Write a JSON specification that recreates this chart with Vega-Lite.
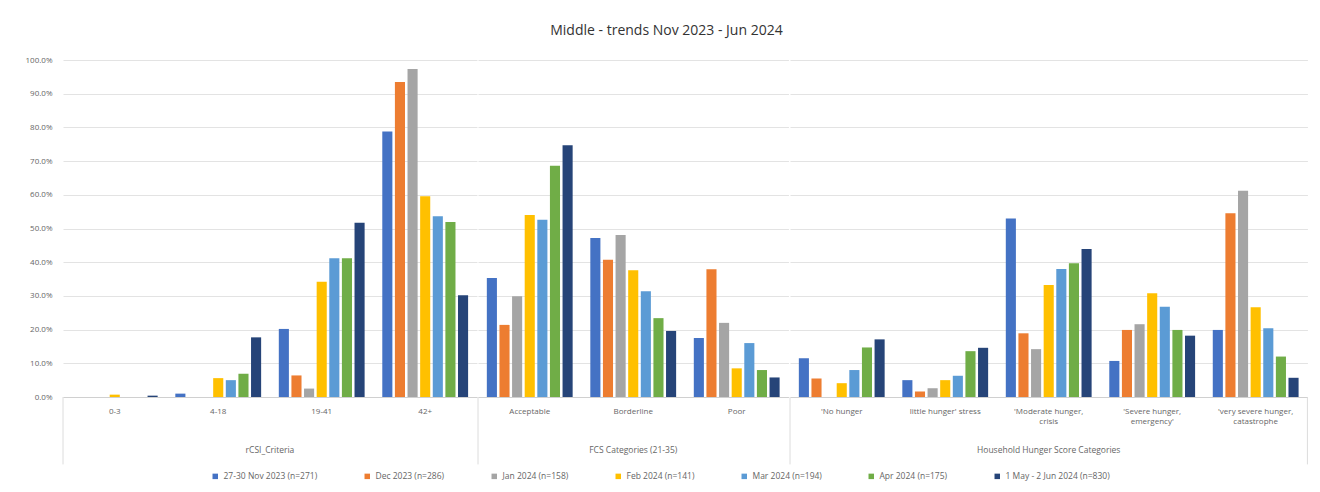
{
  "$schema": "https://vega.github.io/schema/vega-lite/v6.json",
  "padding": {"left": 24, "top": 24, "right": 12, "bottom": 4},
  "background": "white",
  "title": {"text": "Middle - trends Nov 2023 - Jun 2024", "anchor": "middle", "frame": "bounds", "fontSize": 14, "fontWeight": "normal", "font": "Open Sans", "color": "#333333", "offset": 18},
  "data": {"values": [
    {"g": "rCSI_Criteria", "c": "0-3", "s": "Nov", "v": 0},
    {"g": "rCSI_Criteria", "c": "0-3", "s": "Dec", "v": 0},
    {"g": "rCSI_Criteria", "c": "0-3", "s": "Jan", "v": 0},
    {"g": "rCSI_Criteria", "c": "0-3", "s": "Feb", "v": 0.007},
    {"g": "rCSI_Criteria", "c": "0-3", "s": "Mar", "v": 0},
    {"g": "rCSI_Criteria", "c": "0-3", "s": "Apr", "v": 0},
    {"g": "rCSI_Criteria", "c": "0-3", "s": "May", "v": 0.004},
    {"g": "rCSI_Criteria", "c": "4-18", "s": "Nov", "v": 0.010},
    {"g": "rCSI_Criteria", "c": "4-18", "s": "Dec", "v": 0},
    {"g": "rCSI_Criteria", "c": "4-18", "s": "Jan", "v": 0},
    {"g": "rCSI_Criteria", "c": "4-18", "s": "Feb", "v": 0.056},
    {"g": "rCSI_Criteria", "c": "4-18", "s": "Mar", "v": 0.050},
    {"g": "rCSI_Criteria", "c": "4-18", "s": "Apr", "v": 0.069},
    {"g": "rCSI_Criteria", "c": "4-18", "s": "May", "v": 0.177},
    {"g": "rCSI_Criteria", "c": "19-41", "s": "Nov", "v": 0.202},
    {"g": "rCSI_Criteria", "c": "19-41", "s": "Dec", "v": 0.064},
    {"g": "rCSI_Criteria", "c": "19-41", "s": "Jan", "v": 0.025},
    {"g": "rCSI_Criteria", "c": "19-41", "s": "Feb", "v": 0.342},
    {"g": "rCSI_Criteria", "c": "19-41", "s": "Mar", "v": 0.412},
    {"g": "rCSI_Criteria", "c": "19-41", "s": "Apr", "v": 0.412},
    {"g": "rCSI_Criteria", "c": "19-41", "s": "May", "v": 0.517},
    {"g": "rCSI_Criteria", "c": "42+", "s": "Nov", "v": 0.788},
    {"g": "rCSI_Criteria", "c": "42+", "s": "Dec", "v": 0.935},
    {"g": "rCSI_Criteria", "c": "42+", "s": "Jan", "v": 0.973},
    {"g": "rCSI_Criteria", "c": "42+", "s": "Feb", "v": 0.596},
    {"g": "rCSI_Criteria", "c": "42+", "s": "Mar", "v": 0.536},
    {"g": "rCSI_Criteria", "c": "42+", "s": "Apr", "v": 0.519},
    {"g": "rCSI_Criteria", "c": "42+", "s": "May", "v": 0.302},
    {"g": "FCS Categories (21-35)", "c": "Acceptable", "s": "Nov", "v": 0.353},
    {"g": "FCS Categories (21-35)", "c": "Acceptable", "s": "Dec", "v": 0.214},
    {"g": "FCS Categories (21-35)", "c": "Acceptable", "s": "Jan", "v": 0.299},
    {"g": "FCS Categories (21-35)", "c": "Acceptable", "s": "Feb", "v": 0.540},
    {"g": "FCS Categories (21-35)", "c": "Acceptable", "s": "Mar", "v": 0.526},
    {"g": "FCS Categories (21-35)", "c": "Acceptable", "s": "Apr", "v": 0.686},
    {"g": "FCS Categories (21-35)", "c": "Acceptable", "s": "May", "v": 0.747},
    {"g": "FCS Categories (21-35)", "c": "Borderline", "s": "Nov", "v": 0.472},
    {"g": "FCS Categories (21-35)", "c": "Borderline", "s": "Dec", "v": 0.407},
    {"g": "FCS Categories (21-35)", "c": "Borderline", "s": "Jan", "v": 0.481},
    {"g": "FCS Categories (21-35)", "c": "Borderline", "s": "Feb", "v": 0.376},
    {"g": "FCS Categories (21-35)", "c": "Borderline", "s": "Mar", "v": 0.314},
    {"g": "FCS Categories (21-35)", "c": "Borderline", "s": "Apr", "v": 0.234},
    {"g": "FCS Categories (21-35)", "c": "Borderline", "s": "May", "v": 0.196},
    {"g": "FCS Categories (21-35)", "c": "Poor", "s": "Nov", "v": 0.175},
    {"g": "FCS Categories (21-35)", "c": "Poor", "s": "Dec", "v": 0.379},
    {"g": "FCS Categories (21-35)", "c": "Poor", "s": "Jan", "v": 0.220},
    {"g": "FCS Categories (21-35)", "c": "Poor", "s": "Feb", "v": 0.085},
    {"g": "FCS Categories (21-35)", "c": "Poor", "s": "Mar", "v": 0.160},
    {"g": "FCS Categories (21-35)", "c": "Poor", "s": "Apr", "v": 0.080},
    {"g": "FCS Categories (21-35)", "c": "Poor", "s": "May", "v": 0.058},
    {"g": "Household Hunger Score Categories", "c": "'No hunger", "s": "Nov", "v": 0.115},
    {"g": "Household Hunger Score Categories", "c": "'No hunger", "s": "Dec", "v": 0.055},
    {"g": "Household Hunger Score Categories", "c": "'No hunger", "s": "Jan", "v": 0},
    {"g": "Household Hunger Score Categories", "c": "'No hunger", "s": "Feb", "v": 0.041},
    {"g": "Household Hunger Score Categories", "c": "'No hunger", "s": "Mar", "v": 0.080},
    {"g": "Household Hunger Score Categories", "c": "'No hunger", "s": "Apr", "v": 0.147},
    {"g": "Household Hunger Score Categories", "c": "'No hunger", "s": "May", "v": 0.171},
    {"g": "Household Hunger Score Categories", "c": "little hunger' stress", "s": "Nov", "v": 0.050},
    {"g": "Household Hunger Score Categories", "c": "little hunger' stress", "s": "Dec", "v": 0.016},
    {"g": "Household Hunger Score Categories", "c": "little hunger' stress", "s": "Jan", "v": 0.026},
    {"g": "Household Hunger Score Categories", "c": "little hunger' stress", "s": "Feb", "v": 0.050},
    {"g": "Household Hunger Score Categories", "c": "little hunger' stress", "s": "Mar", "v": 0.063},
    {"g": "Household Hunger Score Categories", "c": "little hunger' stress", "s": "Apr", "v": 0.136},
    {"g": "Household Hunger Score Categories", "c": "little hunger' stress", "s": "May", "v": 0.146},
    {"g": "Household Hunger Score Categories", "c": "'Moderate hunger, crisis", "s": "Nov", "v": 0.530},
    {"g": "Household Hunger Score Categories", "c": "'Moderate hunger, crisis", "s": "Dec", "v": 0.189},
    {"g": "Household Hunger Score Categories", "c": "'Moderate hunger, crisis", "s": "Jan", "v": 0.142},
    {"g": "Household Hunger Score Categories", "c": "'Moderate hunger, crisis", "s": "Feb", "v": 0.332},
    {"g": "Household Hunger Score Categories", "c": "'Moderate hunger, crisis", "s": "Mar", "v": 0.380},
    {"g": "Household Hunger Score Categories", "c": "'Moderate hunger, crisis", "s": "Apr", "v": 0.397},
    {"g": "Household Hunger Score Categories", "c": "'Moderate hunger, crisis", "s": "May", "v": 0.439},
    {"g": "Household Hunger Score Categories", "c": "'Severe hunger, emergency'", "s": "Nov", "v": 0.107},
    {"g": "Household Hunger Score Categories", "c": "'Severe hunger, emergency'", "s": "Dec", "v": 0.199},
    {"g": "Household Hunger Score Categories", "c": "'Severe hunger, emergency'", "s": "Jan", "v": 0.216},
    {"g": "Household Hunger Score Categories", "c": "'Severe hunger, emergency'", "s": "Feb", "v": 0.308},
    {"g": "Household Hunger Score Categories", "c": "'Severe hunger, emergency'", "s": "Mar", "v": 0.268},
    {"g": "Household Hunger Score Categories", "c": "'Severe hunger, emergency'", "s": "Apr", "v": 0.199},
    {"g": "Household Hunger Score Categories", "c": "'Severe hunger, emergency'", "s": "May", "v": 0.182},
    {"g": "Household Hunger Score Categories", "c": "'very severe hunger, catastrophe", "s": "Nov", "v": 0.199},
    {"g": "Household Hunger Score Categories", "c": "'very severe hunger, catastrophe", "s": "Dec", "v": 0.545},
    {"g": "Household Hunger Score Categories", "c": "'very severe hunger, catastrophe", "s": "Jan", "v": 0.612},
    {"g": "Household Hunger Score Categories", "c": "'very severe hunger, catastrophe", "s": "Feb", "v": 0.266},
    {"g": "Household Hunger Score Categories", "c": "'very severe hunger, catastrophe", "s": "Mar", "v": 0.204},
    {"g": "Household Hunger Score Categories", "c": "'very severe hunger, catastrophe", "s": "Apr", "v": 0.120},
    {"g": "Household Hunger Score Categories", "c": "'very severe hunger, catastrophe", "s": "May", "v": 0.057}
  ]},
  "transform": [
    {"lookup": "s", "from": {"data": {"values": [
      {"s": "Nov", "series": "27-30 Nov 2023 (n=271)"},
      {"s": "Dec", "series": "Dec 2023 (n=286)"},
      {"s": "Jan", "series": "Jan 2024 (n=158)"},
      {"s": "Feb", "series": "Feb 2024 (n=141)"},
      {"s": "Mar", "series": "Mar 2024 (n=194)"},
      {"s": "Apr", "series": "Apr 2024 (n=175)"},
      {"s": "May", "series": "1 May - 2 Jun 2024 (n=830)"}
    ]}, "key": "s", "fields": ["series"]}}
  ],
  "facet": {
    "column": {
      "field": "g", "type": "nominal", "title": null,
      "sort": ["rCSI_Criteria", "FCS Categories (21-35)", "Household Hunger Score Categories"],
      "header": {"labels": false}
    }
  },
  "spacing": 0,
  "resolve": {"scale": {"x": "independent"}},
  "spec": {
    "width": {"step": 12.62},
    "height": 337,
    "layer": [
      {
        "mark": {"type": "bar"},
        "encoding": {
          "x": {"field": "c", "type": "nominal", "title": null,
            "sort": ["0-3", "4-18", "19-41", "42+", "Acceptable", "Borderline", "Poor", "'No hunger", "little hunger' stress", "'Moderate hunger, crisis", "'Severe hunger, emergency'", "'very severe hunger, catastrophe"],
            "scale": {"type": "band", "paddingInner": 0, "paddingOuter": 0},
            "axis": {"labelAngle": 0, "labelFontSize": 8, "labelColor": "#666666", "labelFont": "Open Sans", "ticks": false, "domain": true, "domainColor": "#d0d0d0", "labelPadding": 10, "labelLimit": 200,
              "labelExpr": "indexof(datum.label, ',') > 0 ? [slice(datum.label, 0, indexof(datum.label, ',') + 1), trim(slice(datum.label, indexof(datum.label, ',') + 1))] : datum.label"}},
          "xOffset": {"field": "series", "type": "nominal",
            "sort": ["27-30 Nov 2023 (n=271)", "Dec 2023 (n=286)", "Jan 2024 (n=158)", "Feb 2024 (n=141)", "Mar 2024 (n=194)", "Apr 2024 (n=175)", "1 May - 2 Jun 2024 (n=830)"],
            "scale": {"paddingInner": 0.2, "paddingOuter": 0.7}},
          "y": {"field": "v", "type": "quantitative", "title": null,
            "scale": {"domain": [0, 1], "nice": false},
            "axis": {"format": ".1%", "values": [0, 0.1, 0.2, 0.3, 0.4, 0.5, 0.6, 0.7, 0.8, 0.9, 1], "tickCount": 12, "labelFontSize": 8, "labelColor": "#666666", "labelFont": "Open Sans", "ticks": false, "domain": false, "gridColor": "#e3e3e3", "labelPadding": 10}},
          "color": {"field": "series", "type": "nominal", "title": null,
            "sort": ["27-30 Nov 2023 (n=271)", "Dec 2023 (n=286)", "Jan 2024 (n=158)", "Feb 2024 (n=141)", "Mar 2024 (n=194)", "Apr 2024 (n=175)", "1 May - 2 Jun 2024 (n=830)"],
            "scale": {"range": ["#4472C4", "#ED7D31", "#A5A5A5", "#FFC000", "#5B9BD5", "#70AD47", "#264478"]},
            "legend": {"orient": "none", "legendX": 148, "legendY": 412, "direction": "horizontal"}}
        }
      },
      {
        "transform": [{"filter": "datum.s == 'Nov' && (datum.c == '0-3' || datum.c == 'Acceptable' || datum.c == \"'No hunger\")"}],
        "mark": {"type": "rule", "color": "#dcdcdc", "strokeWidth": 1},
        "encoding": {
          "x": {"field": "c", "type": "nominal", "bandPosition": 0,
            "sort": ["0-3", "4-18", "19-41", "42+", "Acceptable", "Borderline", "Poor", "'No hunger", "little hunger' stress", "'Moderate hunger, crisis", "'Severe hunger, emergency'", "'very severe hunger, catastrophe"]},
          "y": {"datum": 0, "type": "quantitative"},
          "y2": {"datum": -0.2}
        }
      },
      {
        "transform": [{"filter": "datum.s == 'Nov' && datum.c == \"'very severe hunger, catastrophe\""}],
        "mark": {"type": "rule", "color": "#dcdcdc", "strokeWidth": 1},
        "encoding": {
          "x": {"field": "c", "type": "nominal", "bandPosition": 1,
            "sort": ["0-3", "4-18", "19-41", "42+", "Acceptable", "Borderline", "Poor", "'No hunger", "little hunger' stress", "'Moderate hunger, crisis", "'Severe hunger, emergency'", "'very severe hunger, catastrophe"]},
          "y": {"datum": 0, "type": "quantitative"},
          "y2": {"datum": -0.2}
        }
      },
      {
        "transform": [{"filter": "datum.s == 'Nov' && datum.c == '4-18'"}],
        "mark": {"type": "text", "fontSize": 8.5, "fill": "#666666", "font": "Open Sans", "baseline": "middle"},
        "encoding": {
          "x": {"field": "c", "type": "nominal", "bandPosition": 1,
            "sort": ["0-3", "4-18", "19-41", "42+", "Acceptable", "Borderline", "Poor", "'No hunger", "little hunger' stress", "'Moderate hunger, crisis", "'Severe hunger, emergency'", "'very severe hunger, catastrophe"]},
          "y": {"datum": -0.157, "type": "quantitative"},
          "text": {"field": "g"}
        }
      },
      {
        "transform": [{"filter": "datum.s == 'Nov' && (datum.c == 'Borderline' || datum.c == \"'Moderate hunger, crisis\")"}],
        "mark": {"type": "text", "fontSize": 8.5, "fill": "#666666", "font": "Open Sans", "baseline": "middle"},
        "encoding": {
          "x": {"field": "c", "type": "nominal", "bandPosition": 0.5,
            "sort": ["0-3", "4-18", "19-41", "42+", "Acceptable", "Borderline", "Poor", "'No hunger", "little hunger' stress", "'Moderate hunger, crisis", "'Severe hunger, emergency'", "'very severe hunger, catastrophe"]},
          "y": {"datum": -0.157, "type": "quantitative"},
          "text": {"field": "g"}
        }
      }
    ]
  },
  "config": {
    "view": {"stroke": null},
    "legend": {"symbolType": "square", "symbolSize": 30, "labelFontSize": 8.5, "labelColor": "#666666", "labelFont": "Open Sans", "columnPadding": 45, "labelLimit": 300},
    "font": "Open Sans"
  }
}
